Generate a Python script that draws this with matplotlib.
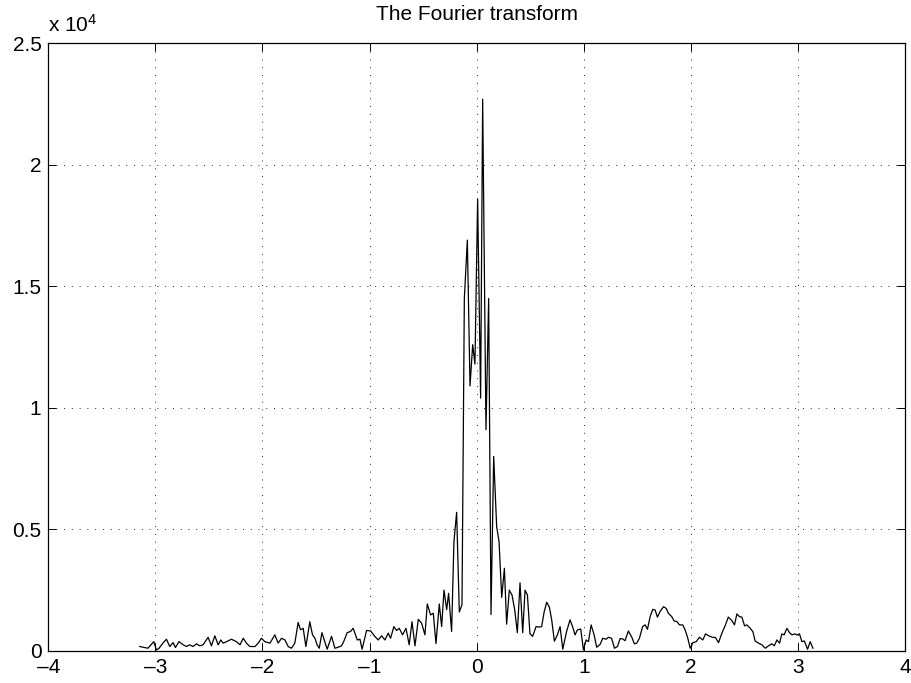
import numpy as np
import matplotlib
matplotlib.use("Agg")
import matplotlib.pyplot as plt
from matplotlib.ticker import FixedLocator, FuncFormatter

plt.rcParams['font.family'] = ['Liberation Sans', 'DejaVu Sans']
plt.rcParams['mathtext.default'] = 'regular'

# frequency (rad/sample) and magnitude (in units of 1e4)
freq = [
    -3.146, -3.10, -3.07, -3.016, -2.99, -2.966, -2.93, -2.897, -2.866, -2.835,
    -2.813, -2.78, -2.74, -2.71, -2.68, -2.65, -2.617, -2.586, -2.555, -2.508,
    -2.477, -2.445, -2.414, -2.39, -2.367, -2.336, -2.29, -2.243, -2.21, -2.18,
    -2.15, -2.118, -2.07, -2.04, -2.01, -1.978, -1.93, -1.885, -1.854, -1.822,
    -1.79, -1.76, -1.73, -1.698, -1.667, -1.645, -1.62, -1.595, -1.558, -1.533,
    -1.51, -1.49, -1.47, -1.445, -1.42, -1.396,
    -1.355, -1.324, -1.293, -1.262, -1.24, -1.209, -1.178, -1.153, -1.115, -1.09,
    -1.07, -1.028, -0.99, -0.95, -0.919, -0.888, -0.857, -0.826, -0.804, -0.773,
    -0.748, -0.723, -0.692, -0.66, -0.63, -0.604, -0.576, -0.545, -0.514, -0.483,
    -0.461, -0.43, -0.405, -0.38, -0.349, -0.327, -0.305, -0.28, -0.262, -0.234,
    -0.212, -0.187, -0.162, -0.137, -0.115, -0.087, -0.062, -0.037, -0.016, 0.009,
    0.037, 0.056, 0.087, 0.112, 0.134, 0.159, 0.187, 0.209, 0.234, 0.259,
    0.28, 0.305, 0.33, 0.355, 0.38,
    0.405, 0.43, 0.452, 0.474, 0.498, 0.523, 0.555, 0.586, 0.607, 0.63,
    0.654, 0.679, 0.70, 0.726, 0.754, 0.779, 0.804, 0.84, 0.872, 0.897,
    0.919, 0.94, 0.972, 0.997, 1.022, 1.044, 1.069, 1.097, 1.121, 1.153,
    1.178, 1.209, 1.23, 1.26, 1.287, 1.315, 1.34, 1.364, 1.386, 1.417,
    1.449, 1.473, 1.495, 1.52, 1.55, 1.573, 1.595, 1.62, 1.645, 1.667,
    1.688, 1.713, 1.745, 1.77, 1.79, 1.822, 1.844, 1.869, 1.894, 1.925,
    1.947, 1.972, 1.994, 2.02, 2.05, 2.08, 2.112, 2.137, 2.168, 2.2, 2.23,
    2.259, 2.29, 2.32, 2.35, 2.383, 2.408, 2.43, 2.455, 2.477, 2.502,
    2.523, 2.555, 2.58, 2.6, 2.632, 2.664, 2.695, 2.726, 2.757, 2.78,
    2.804, 2.829, 2.85, 2.872, 2.897, 2.922, 2.944, 2.97, 2.99, 3.015,
    3.037, 3.06, 3.09, 3.115, 3.14,
]
mag_e4 = [
    0.018, 0.014, 0.011, 0.038, 0.004, 0.011, 0.032, 0.048, 0.018, 0.034,
    0.014, 0.038, 0.025, 0.018, 0.025, 0.018, 0.029, 0.021, 0.025, 0.056,
    0.021, 0.062, 0.025, 0.045, 0.032, 0.038, 0.048, 0.038, 0.025, 0.052,
    0.032, 0.018, 0.018, 0.032, 0.052, 0.038, 0.032, 0.066, 0.032, 0.052,
    0.045, 0.018, 0.011, 0.032, 0.117, 0.087, 0.093, 0.018, 0.12, 0.066,
    0.052, 0.025, 0.011, 0.075, 0.04, 0.007,
    0.06, 0.011, 0.015, 0.021, 0.04, 0.075, 0.08, 0.093, 0.045, 0.048,
    0.007, 0.084, 0.082, 0.059, 0.045, 0.062, 0.045, 0.073, 0.052, 0.1,
    0.084, 0.093, 0.066, 0.093, 0.025, 0.12, 0.021, 0.13, 0.114, 0.066,
    0.193, 0.148, 0.155, 0.03, 0.193, 0.1, 0.25, 0.17, 0.237, 0.08,
    0.45, 0.57, 0.16, 0.19, 1.45, 1.69, 1.09, 1.26, 1.18, 1.86,
    1.04, 2.27, 0.91, 1.45, 0.15, 0.80, 0.51, 0.45, 0.22, 0.34,
    0.11, 0.25, 0.23, 0.17, 0.075,
    0.28, 0.075, 0.25, 0.23, 0.07, 0.06, 0.10, 0.098, 0.10, 0.16,
    0.2, 0.18, 0.13, 0.04, 0.066, 0.1, 0.007, 0.08, 0.128, 0.098,
    0.066, 0.086, 0.09, 0.004, 0.045, 0.038, 0.107, 0.066, 0.015, 0.027,
    0.052, 0.048, 0.056, 0.052, 0.011, 0.018, 0.051, 0.049, 0.042, 0.082,
    0.056, 0.029, 0.032, 0.052, 0.1, 0.107, 0.089, 0.141, 0.171, 0.168,
    0.139, 0.162, 0.182, 0.175, 0.155, 0.141, 0.123, 0.121, 0.107, 0.107,
    0.086, 0.052, 0.011, 0.034, 0.038, 0.056, 0.045, 0.07, 0.062, 0.056, 0.055,
    0.034, 0.073, 0.103, 0.139, 0.125, 0.107, 0.152, 0.141, 0.139, 0.103,
    0.107, 0.093, 0.079, 0.041, 0.032, 0.025, 0.011, 0.021, 0.029, 0.021,
    0.045, 0.032, 0.07, 0.066, 0.093, 0.075, 0.066, 0.07, 0.066, 0.07,
    0.038, 0.041, 0.007, 0.038, 0.011,
]

x_ticks = [-4, -3, -2, -1, 0, 1, 2, 3, 4]
y_ticks_e4 = [0, 0.5, 1, 1.5, 2, 2.5]
title = "The Fourier transform"

mag = np.array(mag_e4) * 1e4

fig = plt.figure(figsize=(9.12, 6.83), dpi=100)
ax = fig.add_axes([0.053, 0.047, 0.9393, 0.8897])
ax.plot(freq, mag, color='black', lw=0.9)

ax.set_xlim(-4, 4)
ax.set_ylim(0, 2.5e4)
ax.xaxis.set_major_locator(FixedLocator(x_ticks))
ax.yaxis.set_major_locator(FixedLocator([v * 1e4 for v in y_ticks_e4]))
ax.yaxis.set_major_formatter(FuncFormatter(lambda v, p: f"{v/1e4:g}"))
ax.xaxis.set_major_formatter(FuncFormatter(lambda v, p: f"{int(v)}".replace('-', '\u2013')))

ax.tick_params(direction='in', length=6, width=0.7, top=True, right=True,
               labelsize=15, pad=5)
ax.grid(True, color='0.15', linestyle=(0, (1, 7)), linewidth=0.7)
for s in ax.spines.values():
    s.set_linewidth(0.9)

ax.set_title(title, fontsize=15, pad=17)
fig.text(0.053, 0.948, r'x 10$^{4}$', fontsize=15, ha='left', va='bottom')

fig.savefig('out.png', dpi=100)
